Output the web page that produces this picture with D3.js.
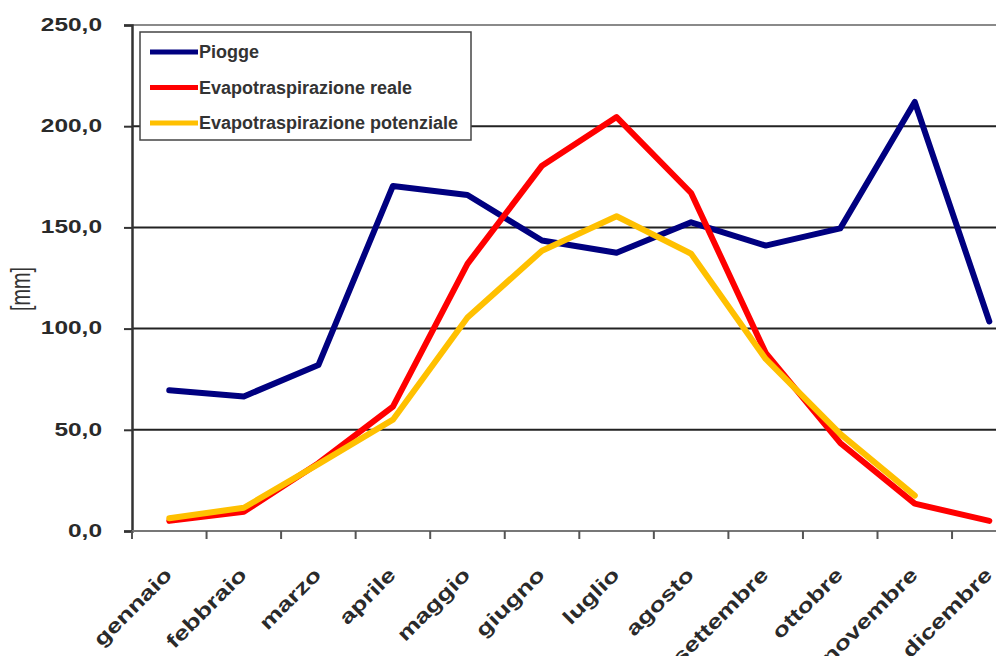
<!DOCTYPE html>
<html>
<head>
<meta charset="utf-8">
<script src="https://cdn.jsdelivr.net/npm/d3@7/dist/d3.min.js"></script>
<style>
  html, body { margin: 0; padding: 0; background: #fff; overflow: hidden; }
  svg { display: block; font-family: "Liberation Sans", Arial, sans-serif; }
</style>
</head>
<body>
<svg id="chart" width="996" height="656"></svg>
<script>
// Monthly rainfall and evapotranspiration [mm]
const months = ["gennaio", "febbraio", "marzo", "aprile", "maggio", "giugno",
                "luglio", "agosto", "settembre", "ottobre", "novembre", "dicembre"];
const piogge = [69.5, 66.5, 82, 170.5, 166, 143.5, 137.5, 152.5, 141, 149.5, 212, 103.5];
const evapReale = [5, 9.5, 33.5, 61.5, 132, 180.5, 204.5, 167, 88, 43.5, 13.5, 5];
const evapPotenziale = [6.3, 11.5, 33, 55, 105.5, 138.5, 155.5, 137, 85, 48, 17.5, null];
const yTicks = [0, 50, 100, 150, 200, 250];
const seriesNames = ["Piogge", "Evapotraspirazione reale", "Evapotraspirazione potenziale"];
const seriesColors = ["#000080", "#ff0000", "#ffc000"];

const svg = d3.select("#chart");
const plotLeft = 132, plotTop = 25, plotBottom = 531;
const step = 74.55;
const plotRight = plotLeft + step * months.length;

const x = d3.scaleBand().domain(months).range([plotLeft, plotRight]);
const y = d3.scaleLinear().domain([0, 250]).range([plotBottom, plotTop]);
const fmt = v => d3.format(".1f")(v).replace(".", ",");

// horizontal gridlines
svg.append("g").selectAll("line")
  .data(yTicks.filter(t => t > 0))
  .join("line")
  .attr("x1", plotLeft).attr("x2", plotRight)
  .attr("y1", d => y(d)).attr("y2", d => y(d))
  .attr("stroke", d => d === 250 ? "#8a8a8a" : "#222")
  .attr("stroke-width", 2);

// y axis
const yAxis = svg.append("g").attr("transform", `translate(${plotLeft},0)`)
  .call(d3.axisLeft(y).tickValues(yTicks).tickSize(8).tickFormat(""));
yAxis.select(".domain").attr("stroke", "#333").attr("stroke-width", 2.5);
yAxis.selectAll(".tick line").attr("stroke", "#333").attr("stroke-width", 2);

// y tick labels
svg.append("g").selectAll("text")
  .data(yTicks)
  .join("text")
  .attr("transform", d => `translate(102,${y(d)}) scale(1.36,1)`)
  .attr("text-anchor", "end")
  .attr("dominant-baseline", "central")
  .attr("font-size", 18)
  .attr("font-weight", "bold")
  .attr("fill", "#2a2a2a")
  .text(fmt);

// y axis title
svg.append("text")
  .attr("transform", "translate(21,289) rotate(-90) scale(1.1,1.5)")
  .attr("text-anchor", "middle")
  .attr("dominant-baseline", "central")
  .attr("font-size", 18)
  .attr("fill", "#333")
  .text("[mm]");

// x axis
const xAxis = svg.append("g").attr("transform", `translate(0,${plotBottom})`);
xAxis.append("line")
  .attr("x1", plotLeft).attr("x2", plotRight)
  .attr("stroke", "#777").attr("stroke-width", 2);
xAxis.selectAll("line.tk")
  .data(months)
  .join("line").attr("class", "tk")
  .attr("x1", d => x(d)).attr("x2", d => x(d))
  .attr("y1", 0).attr("y2", 8)
  .attr("stroke", "#555").attr("stroke-width", 2);

// month labels
svg.append("g").selectAll("text")
  .data(months)
  .join("text")
  .attr("transform", d => `translate(${x(d) + x.bandwidth() / 2 + 4},576) rotate(-45) scale(1.32,1)`)
  .attr("text-anchor", "end")
  .attr("font-size", 20)
  .attr("font-weight", "bold")
  .attr("fill", "#2a2a2a")
  .text(d => d);

// series lines
const series = [piogge, evapReale, evapPotenziale];
const line = d3.line()
  .defined(d => d.v !== null)
  .x(d => x(d.m) + x.bandwidth() / 2)
  .y(d => y(d.v));

svg.append("g").selectAll("path")
  .data(series)
  .join("path")
  .attr("d", s => line(s.map((v, i) => ({ m: months[i], v }))))
  .attr("fill", "none")
  .attr("stroke", (s, i) => seriesColors[i])
  .attr("stroke-width", 6)
  .attr("stroke-linejoin", "round")
  .attr("stroke-linecap", "round");

// legend
const lg = svg.append("g");
lg.append("rect")
  .attr("x", 140).attr("y", 32).attr("width", 331).attr("height", 108)
  .attr("fill", "#fff").attr("stroke", "#444").attr("stroke-width", 1.5);
const rows = lg.selectAll("g.row")
  .data(seriesNames)
  .join("g").attr("class", "row")
  .attr("transform", (d, i) => `translate(150,${52 + i * 35.5})`);
rows.append("line")
  .attr("x1", 0).attr("x2", 48)
  .attr("stroke", (d, i) => seriesColors[i])
  .attr("stroke-width", 5);
rows.append("text")
  .attr("x", 49)
  .attr("dominant-baseline", "central")
  .attr("font-size", 18)
  .attr("font-weight", "bold")
  .attr("fill", "#333")
  .text(d => d);
</script>
</body>
</html>
